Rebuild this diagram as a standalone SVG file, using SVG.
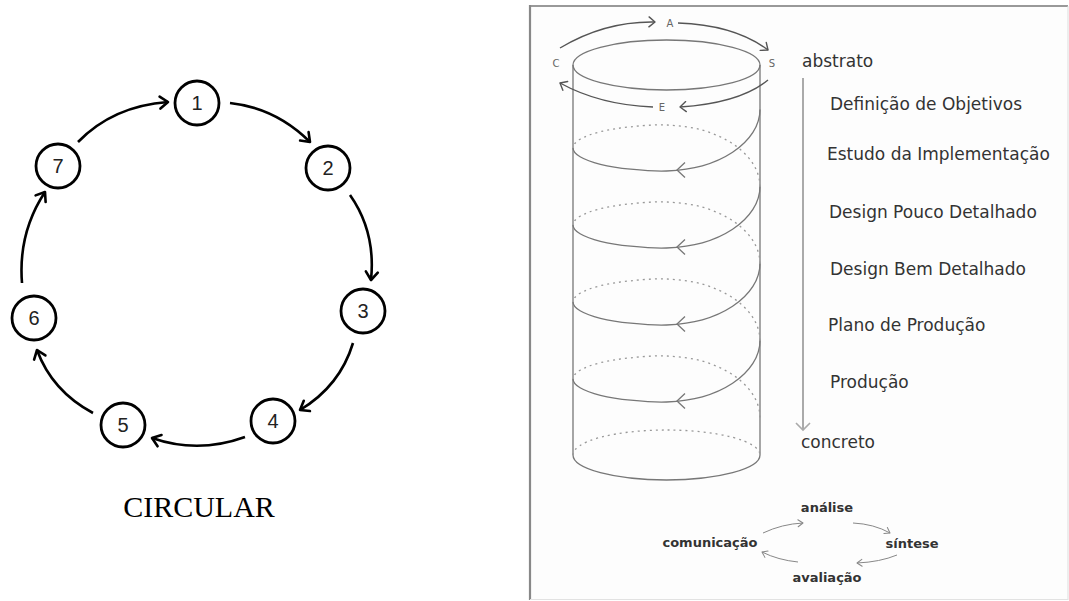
<svg xmlns="http://www.w3.org/2000/svg" xmlns:xlink="http://www.w3.org/1999/xlink" width="1069" height="601" viewBox="0 0 1069 601">
<style>
.node circle{fill:#fff;stroke:#000;stroke-width:2.8}
.node text{font-family:"Liberation Sans",Arial,sans-serif;font-size:20px;fill:#222;text-anchor:middle}
.conn{fill:none;stroke:#000;stroke-width:2.6;marker-end:url(#ah)}
.cyl{fill:none;stroke:#777;stroke-width:1.3}
.dash{fill:none;stroke:#999;stroke-width:1.3;stroke-dasharray:2 4}
.case{fill:none;stroke:#555;stroke-width:1.4;marker-end:url(#ahg)}
.lt{font-family:"DejaVu Sans",Verdana,sans-serif;font-size:10px;fill:#666;text-anchor:middle}
.step{font-family:"DejaVu Sans",Verdana,sans-serif;font-size:17px;fill:#333}
.cyc{font-family:"DejaVu Sans",Verdana,sans-serif;font-size:13px;font-weight:bold;fill:#333;text-anchor:middle}
.cyca{fill:none;stroke:#888;stroke-width:1;marker-end:url(#ahc)}
</style>
<defs>
<marker id="ah" markerWidth="16" markerHeight="16" refX="11" refY="8" orient="auto" markerUnits="userSpaceOnUse"><path d="M3,2 L11,8 L3,14" fill="none" stroke="#000" stroke-width="2.6" stroke-linecap="round" stroke-linejoin="round"/></marker>
<marker id="ahg" markerWidth="12" markerHeight="12" refX="8" refY="6" orient="auto" markerUnits="userSpaceOnUse"><path d="M2,1 L8,6 L2,11" fill="none" stroke="#555" stroke-width="1.4" stroke-linecap="round" stroke-linejoin="round"/></marker>
<marker id="ahc" markerWidth="10" markerHeight="10" refX="7" refY="5" orient="auto" markerUnits="userSpaceOnUse"><path d="M2,1.5 L7,5 L2,8.5" fill="none" stroke="#888" stroke-width="1" stroke-linecap="round" stroke-linejoin="round"/></marker>
<path id="helix" d="M760,-38.5 C760,-30.87 757.47,-22.73 752.9,-15.6 C748.33,-8.47 741.03,-1.28 732.6,4.3 C724.17,9.88 713.32,14.78 702.3,17.9 C691.28,21.02 678.43,22.45 666.5,23 C654.57,23.55 641.72,22.32 630.7,21.2 C619.68,20.08 608.83,18.37 600.4,16.3 C591.97,14.23 584.67,11.52 580.1,8.8 C575.53,6.08 573,2.93 573,0"/>
<path id="hchev" d="M685,14.5 L677,22 L685,29.5"/>
</defs>
<rect x="0" y="0" width="1069" height="601" fill="#fff"/>

<!-- LEFT: circular model -->
<g id="connectors">
<path class="conn" d="M78,142 Q113,106 168,102"/>
<path class="conn" d="M230,103 Q276,108 310,142"/>
<path class="conn" d="M350,195 Q376,232 371,280"/>
<path class="conn" d="M353,343 Q340,386 300,410"/>
<path class="conn" d="M245,437 Q198,454 152,438"/>
<path class="conn" d="M93,413 Q52,391 37,350"/>
<path class="conn" d="M22,283 Q18,233 45,192"/>
</g>
<g id="node-1" class="node"><circle cx="197" cy="103" r="22"/><text x="197" y="110">1</text></g>
<g id="node-2" class="node"><circle cx="328" cy="168" r="22"/><text x="328" y="175">2</text></g>
<g id="node-3" class="node"><circle cx="363" cy="311" r="22"/><text x="363" y="318">3</text></g>
<g id="node-4" class="node"><circle cx="273" cy="421" r="22"/><text x="273" y="428">4</text></g>
<g id="node-5" class="node"><circle cx="123" cy="425" r="22"/><text x="123" y="432">5</text></g>
<g id="node-6" class="node"><circle cx="34" cy="318" r="22"/><text x="34" y="325">6</text></g>
<g id="node-7" class="node"><circle cx="58" cy="166" r="22"/><text x="58" y="173">7</text></g>
<g id="caption"><text x="199" y="517" font-family="Liberation Serif,'Times New Roman',serif" font-size="30" fill="#000" text-anchor="middle">CIRCULAR</text></g>

<!-- RIGHT: spiral model panel -->
<g id="panel">
<rect x="530" y="6" width="538" height="594" fill="#fdfdfd"/>
<line x1="530" y1="6" x2="1068" y2="6" stroke="#999" stroke-width="2"/>
<line x1="530" y1="5" x2="530" y2="600" stroke="#888" stroke-width="2.2"/>
<line x1="1068" y1="6" x2="1068" y2="600" stroke="#ddd" stroke-width="1"/>
<line x1="530" y1="599.5" x2="1068" y2="599.5" stroke="#e2e2e2" stroke-width="1"/>
</g>

<g id="cylinder">
<ellipse class="cyl" cx="666.5" cy="65" rx="93.5" ry="25"/>
<line class="cyl" x1="573" y1="65" x2="573" y2="455"/>
<line class="cyl" x1="760" y1="65" x2="760" y2="455"/>
<path class="cyl" d="M573,455 A93.5,25 0 0 0 760,455"/>
<path class="dash" d="M573,455 A93.5,25 0 0 1 760,455"/>
</g>
<g id="spiral">
<use xlink:href="#helix" class="cyl" transform="translate(0,148)"/>
<use xlink:href="#helix" class="cyl" transform="translate(0,225)"/>
<use xlink:href="#helix" class="cyl" transform="translate(0,302)"/>
<use xlink:href="#helix" class="cyl" transform="translate(0,379)"/>
<use xlink:href="#hchev" class="cyl" transform="translate(0,148)"/>
<use xlink:href="#hchev" class="cyl" transform="translate(0,225)"/>
<use xlink:href="#hchev" class="cyl" transform="translate(0,302)"/>
<use xlink:href="#hchev" class="cyl" transform="translate(0,379)"/>
<use xlink:href="#helix" class="dash" transform="translate(0,148) scale(1,-1)"/>
<use xlink:href="#helix" class="dash" transform="translate(0,225) scale(1,-1)"/>
<use xlink:href="#helix" class="dash" transform="translate(0,302) scale(1,-1)"/>
<use xlink:href="#helix" class="dash" transform="translate(0,379) scale(1,-1)"/>
</g>
<g id="case-cycle">
<path class="case" d="M560,48 Q605,21 655,22"/>
<path class="case" d="M678,23 Q735,25 768,50"/>
<path class="case" d="M768,80 Q740,103 680,107"/>
<path class="case" d="M653,107 Q600,105 560,83"/>
<text class="lt" x="670" y="27">A</text>
<text class="lt" x="556" y="67">C</text>
<text class="lt" x="772" y="67">S</text>
<text class="lt" x="662" y="111">E</text>
</g>

<g id="scale-axis">
<line x1="803" y1="78" x2="803" y2="429" stroke="#aaa" stroke-width="2"/>
<path d="M796,423 L803,430 L810,423" fill="none" stroke="#aaa" stroke-width="1.6"/>
<text class="step" x="802" y="67">abstrato</text>
<text class="step" x="801" y="448">concreto</text>
</g>
<g id="stages">
<text class="step" x="830" y="110">Definição de Objetivos</text>
<text class="step" x="827" y="160">Estudo da Implementação</text>
<text class="step" x="829" y="218">Design Pouco Detalhado</text>
<text class="step" x="830" y="275">Design Bem Detalhado</text>
<text class="step" x="828" y="331">Plano de Produção</text>
<text class="step" x="830" y="388">Produção</text>
</g>

<g id="asea">
<path class="cyca" d="M763,533 Q782,524 803,523"/>
<path class="cyca" d="M853,523 Q874,524 890,533"/>
<path class="cyca" d="M897,555 Q880,562 857,563"/>
<path class="cyca" d="M798,562 Q778,560 762,552"/>
<text class="cyc" x="827" y="512">análise</text>
<text class="cyc" x="710" y="547">comunicação</text>
<text class="cyc" x="912" y="548">síntese</text>
<text class="cyc" x="827" y="582">avaliação</text>
</g>
</svg>
